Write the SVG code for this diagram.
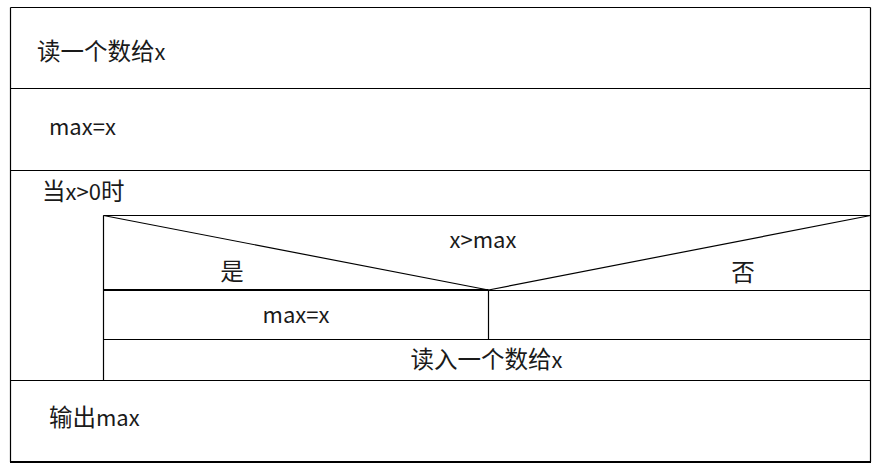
<svg xmlns="http://www.w3.org/2000/svg" width="886" height="476" viewBox="0 0 886 476">
<style>
.ln{stroke:#000;stroke-width:1.2;fill:none}
.thk{stroke:#000;stroke-width:2;fill:none}
.t{font-family:"Noto Sans CJK SC","Noto Sans",sans-serif;font-size:22px;fill:#1a1a1a}
.k{font-size:23.5px}
.c{text-anchor:middle}
</style>
<rect width="886" height="476" fill="#fff"/>
<g id="connectors">
<line class="ln" x1="10.5" y1="7.5" x2="870.5" y2="7.5"/>
<line class="ln" x1="10.5" y1="7.5" x2="10.5" y2="462"/>
<line class="ln" x1="870.5" y1="7.5" x2="870.5" y2="462"/>
<line class="thk" x1="10" y1="462" x2="871" y2="462"/>
</g>
<g id="n1">
<line class="ln" x1="10.5" y1="88.5" x2="870.5" y2="88.5"/>
<text class="t" x="37" y="60"><tspan class="k">读一个数给</tspan>x</text>
</g>
<g id="n2">
<line class="ln" x1="10.5" y1="170.5" x2="870.5" y2="170.5"/>
<text class="t" x="49" y="135">max=x</text>
</g>
<g id="loop">
<text class="t" x="42" y="200"><tspan class="k">当</tspan>x&gt;0<tspan class="k">时</tspan></text>
<line class="ln" x1="103.5" y1="215.5" x2="870.5" y2="215.5"/>
<line class="ln" x1="103.5" y1="215.5" x2="103.5" y2="380.5"/>
<line class="ln" x1="10.5" y1="380.5" x2="870.5" y2="380.5"/>
</g>
<g id="decision">
<line class="ln" x1="103.5" y1="215.5" x2="488.5" y2="290"/>
<line class="ln" x1="488.5" y1="290" x2="870.5" y2="215.5"/>
<line class="thk" x1="103.5" y1="290" x2="488.5" y2="290"/>
<line class="ln" x1="488.5" y1="290.5" x2="870.5" y2="290.5"/>
<text class="t c" x="483" y="248">x&gt;max</text>
<text class="t k c" x="232" y="280">是</text>
<text class="t k c" x="743" y="281">否</text>
</g>
<g id="yes">
<line class="ln" x1="488.5" y1="290" x2="488.5" y2="339.5"/>
<line class="ln" x1="103.5" y1="339.5" x2="870.5" y2="339.5"/>
<text class="t c" x="296" y="323">max=x</text>
</g>
<g id="read">
<text class="t c" x="486.5" y="368"><tspan class="k">读入一个数给</tspan>x</text>
</g>
<g id="out">
<text class="t" x="49" y="426"><tspan class="k">输出</tspan>max</text>
</g>
</svg>
